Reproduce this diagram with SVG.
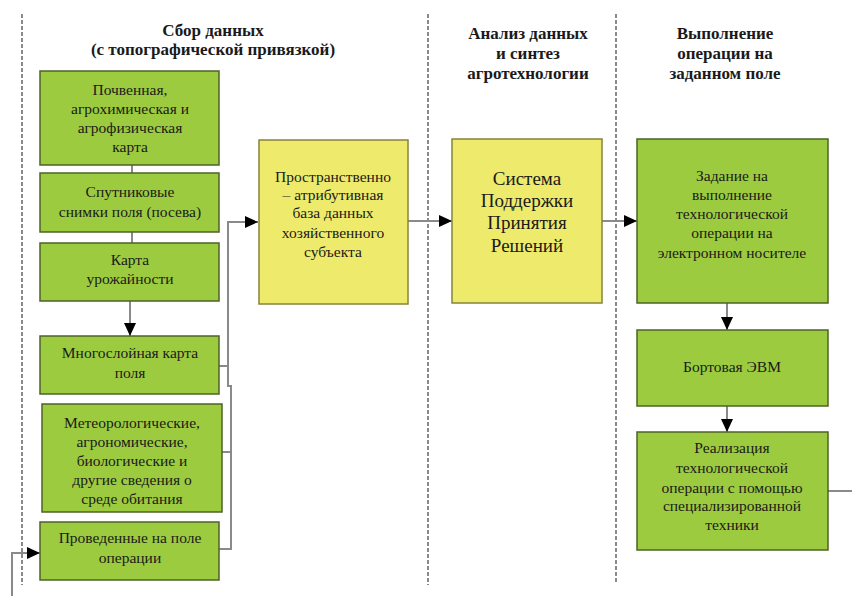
<svg xmlns="http://www.w3.org/2000/svg" width="852" height="596" viewBox="0 0 852 596">
<defs>
<style>
.g{fill:#9dcb3f;stroke:#4f6228;stroke-width:1.5}
.y{fill:#eeea6c;stroke:#86843a;stroke-width:1.5}
.t{font-family:"Liberation Serif",serif;font-size:15.5px;fill:#1a1a1a;text-anchor:middle}
.big{font-size:19px}
.h{font-family:"Liberation Serif",serif;font-size:17px;font-weight:bold;fill:#1a1a1a;text-anchor:middle}
.c{fill:none;stroke:#8a8a8a;stroke-width:2}
.d{fill:none;stroke:#8a8a8a;stroke-width:2;stroke-dasharray:4 2}
</style>
<marker id="a" markerUnits="userSpaceOnUse" markerWidth="14" markerHeight="12" refX="13" refY="6" orient="auto">
<path d="M0,0 L13,6 L0,12 Z" fill="#000"/>
</marker>
</defs>
<rect width="852" height="596" fill="#fff"/>
<g id="dividers">
<line class="d" x1="22" y1="14" x2="22" y2="585"/>
<line class="d" x1="428" y1="14" x2="428" y2="585"/>
<line class="d" x1="616" y1="14" x2="616" y2="582"/>
</g>
<g id="headers">
<text class="h" x="213" y="36">Сбор данных</text>
<text class="h" x="213" y="55">(с топографической привязкой)</text>
<text class="h" x="528" y="39">Анализ данных</text>
<text class="h" x="528" y="59">и синтез</text>
<text class="h" x="528" y="79">агротехнологии</text>
<text class="h" x="725" y="39">Выполнение</text>
<text class="h" x="725" y="59">операции на</text>
<text class="h" x="725" y="79">заданном поле</text>
</g>
<g id="connectors">
<line class="c" x1="132" y1="165" x2="132" y2="173"/>
<line class="c" x1="132" y1="232" x2="132" y2="243"/>
<line class="c" x1="130" y1="301" x2="130" y2="336" marker-end="url(#a)"/>
<path class="c" d="M219,366 H228 M222,452 H231 M219,549 H231 V386 H228 V222 H258" marker-end="url(#a)"/>
<line class="c" x1="408" y1="221" x2="452" y2="221" marker-end="url(#a)"/>
<line class="c" x1="602" y1="221" x2="637" y2="221" marker-end="url(#a)"/>
<line class="c" x1="727" y1="303" x2="727" y2="330" marker-end="url(#a)"/>
<line class="c" x1="727" y1="406" x2="727" y2="432" marker-end="url(#a)"/>
<line class="c" x1="828" y1="491" x2="852" y2="491"/>
<path class="c" d="M12,596 V553 H40" marker-end="url(#a)"/>
</g>
<g id="n1">
<rect class="g" x="40" y="71" width="179" height="94"/>
<text class="t" x="130" y="95">Почвенная,</text>
<text class="t" x="130" y="114">агрохимическая и</text>
<text class="t" x="130" y="133">агрофизическая</text>
<text class="t" x="130" y="152">карта</text>
</g>
<g id="n2">
<rect class="g" x="40" y="173" width="179" height="59"/>
<text class="t" x="130" y="197">Спутниковые</text>
<text class="t" x="130" y="217">снимки поля (посева)</text>
</g>
<g id="n3">
<rect class="g" x="40" y="243" width="179" height="58"/>
<text class="t" x="130" y="265">Карта</text>
<text class="t" x="130" y="284">урожайности</text>
</g>
<g id="n4">
<rect class="g" x="40" y="336" width="179" height="58"/>
<text class="t" x="130" y="358">Многослойная карта</text>
<text class="t" x="130" y="378">поля</text>
</g>
<g id="n5">
<rect class="g" x="42" y="404" width="180" height="108"/>
<text class="t" x="132" y="428">Метеорологические,</text>
<text class="t" x="132" y="447">агрономические,</text>
<text class="t" x="132" y="466">биологические и</text>
<text class="t" x="132" y="485">другие сведения о</text>
<text class="t" x="132" y="504">среде обитания</text>
</g>
<g id="n6">
<rect class="g" x="40" y="522" width="179" height="58"/>
<text class="t" x="130" y="543">Проведенные на поле</text>
<text class="t" x="130" y="563">операции</text>
</g>
<g id="n7">
<rect class="y" x="259" y="140" width="149" height="164"/>
<text class="t" x="333" y="182">Пространственно</text>
<text class="t" x="333" y="200">– атрибутивная</text>
<text class="t" x="333" y="218">база данных</text>
<text class="t" x="333" y="238">хозяйственного</text>
<text class="t" x="333" y="257">субъекта</text>
</g>
<g id="n8">
<rect class="y" x="452" y="139" width="150" height="164"/>
<text class="t big" x="527" y="185">Система</text>
<text class="t big" x="527" y="207">Поддержки</text>
<text class="t big" x="527" y="229">Принятия</text>
<text class="t big" x="527" y="252">Решений</text>
</g>
<g id="n9">
<rect class="g" x="637" y="139" width="191" height="164"/>
<text class="t" x="732" y="181">Задание на</text>
<text class="t" x="732" y="200">выполнение</text>
<text class="t" x="732" y="219">технологической</text>
<text class="t" x="732" y="238">операции на</text>
<text class="t" x="732" y="258">электронном носителе</text>
</g>
<g id="n10">
<rect class="g" x="637" y="330" width="191" height="76"/>
<text class="t" x="732" y="372">Бортовая ЭВМ</text>
</g>
<g id="n11">
<rect class="g" x="637" y="432" width="191" height="118"/>
<text class="t" x="732" y="453">Реализация</text>
<text class="t" x="732" y="473">технологической</text>
<text class="t" x="732" y="493">операции с помощью</text>
<text class="t" x="732" y="511">специализированной</text>
<text class="t" x="732" y="530">техники</text>
</g>
</svg>
